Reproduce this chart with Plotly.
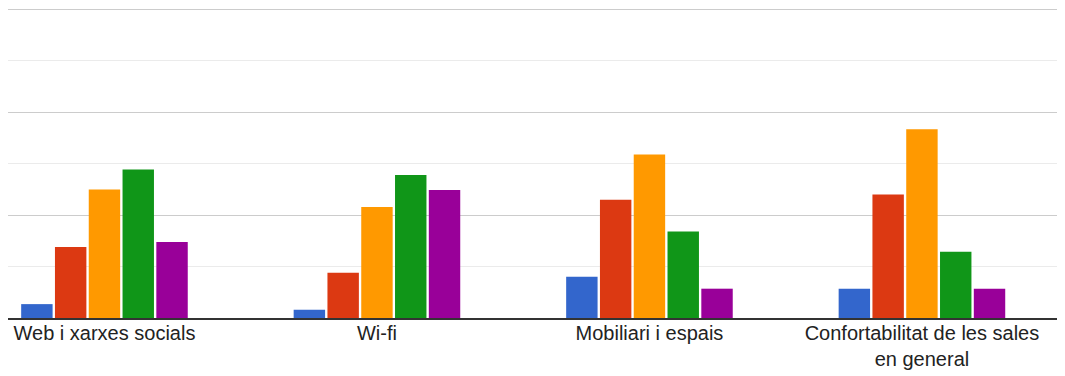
import plotly.graph_objects as go

categories = ["Web i xarxes socials", "Wi-fi", "Mobiliari i espais",
              "Confortabilitat de les sales<br>en general"]
series_names = ["1", "2", "3", "4", "5"]
series_values = [
    [1.35, 0.8, 4.0, 2.85],
    [6.9, 4.4, 11.5, 12.0],
    [12.5, 10.8, 15.9, 18.35],
    [14.45, 13.9, 8.4, 6.45],
    [7.4, 12.45, 2.85, 2.85],
]
colors = ["#3366CC", "#DC3912", "#FF9900", "#109618", "#990099"]
y_max = 30

fig = go.Figure()
for name, vals, col in zip(series_names, series_values, colors):
    fig.add_trace(go.Bar(
        x=list(range(len(categories))), y=vals, name=name,
        marker=dict(color=col, line=dict(width=0)),
    ))

# top major gridline (not drawn by plotly at the very edge of the plot)
fig.add_shape(type="line", xref="paper", x0=0, x1=1, yref="y", y0=y_max, y1=y_max,
              line=dict(color="#cccccc", width=1), layer="below")

# the page body adds an 8px offset, so the figure is sized to fill the rest
fig.update_layout(
    width=1057, height=368,
    margin=dict(l=0, r=3, t=1, b=58, autoexpand=False),
    barmode="group", bargap=0.38, bargroupgap=0.07,
    showlegend=False,
    plot_bgcolor="white", paper_bgcolor="white",
    font=dict(family="Liberation Sans, Arial, sans-serif", size=20, color="#222222"),
    xaxis=dict(
        tickmode="array", tickvals=list(range(len(categories))), ticktext=categories,
        range=[-0.354, 3.514], showgrid=False, zeroline=False, automargin=False,
        showline=True, linecolor="#333333", linewidth=2, ticks="",
        ticklabelstandoff=-4,
    ),
    yaxis=dict(
        range=[0, 30.05], tickvals=[0, 10, 20, 30], showticklabels=False, zeroline=False,
        gridcolor="#cccccc", gridwidth=1, automargin=False,
        minor=dict(tickvals=[5, 15, 25], showgrid=True, gridcolor="#ebebeb", gridwidth=1),
    ),
)

fig.write_html("out.html")
